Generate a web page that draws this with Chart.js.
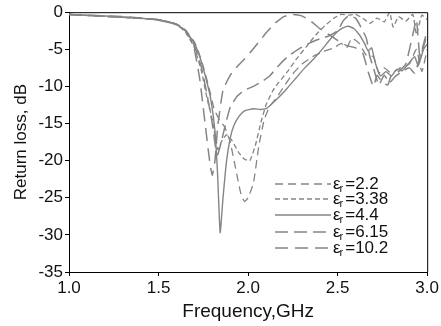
<!DOCTYPE html>
<html>
<head>
<meta charset="utf-8">
<script src="https://cdn.jsdelivr.net/npm/chart.js@4.4.1/dist/chart.umd.min.js"></script>
<style>
  html, body { margin: 0; padding: 0; background: #fff; }
  #wrap { width: 441px; height: 326px; }
</style>
</head>
<body>
<div id="wrap"><canvas id="rl"></canvas></div>
<script>
    // return loss curves (GHz / dB)
    const epsLabels = ['2.2', '3.38', '4.4', '6.15', '10.2'];

    const f22 = [1.0, 1.5, 1.6, 1.65, 1.7, 1.74, 1.78, 1.81, 1.84, 1.87, 1.9, 1.93, 1.96, 1.98, 2.0, 2.03, 2.06, 2.09, 2.12, 2.16, 2.2, 2.25, 2.3, 2.36, 2.42, 2.48, 2.52, 2.55, 2.58, 2.62, 2.66, 2.7, 2.73, 2.76, 2.8, 2.85, 2.9, 2.94, 2.97, 3.0];
    const rl22 = [-0.3, -1.0, -1.6, -2.4, -4, -6.5, -10, -13, -14.5, -15.5, -17.5, -21, -24.5, -25.5, -25, -23, -18, -14.5, -12.7, -11.5, -10, -8.3, -7, -6, -5.3, -4.8, -4.2, -4.8, -3.5, -4.2, -5.8, -6, -8.2, -7.5, -8.2, -7.5, -7, -5, -8, -5];

    const f338 = [1.0, 1.5, 1.6, 1.65, 1.7, 1.74, 1.77, 1.8, 1.83, 1.85, 1.88, 1.91, 1.95, 1.98, 2.01, 2.04, 2.07, 2.1, 2.14, 2.17, 2.22, 2.27, 2.33, 2.38, 2.43, 2.48, 2.52, 2.56, 2.6, 2.64, 2.68, 2.72, 2.76, 2.79, 2.81, 2.84, 2.88, 2.92, 2.94, 2.97, 3.0];
    const rl338 = [-0.3, -1.0, -1.7, -2.7, -4.8, -8, -11.5, -14.5, -18.5, -17.5, -16.5, -17.3, -19, -19.8, -20, -18, -15, -12.5, -10.5, -9.5, -8, -6.3, -4.5, -3, -1.8, -0.8, -0.3, -0.4, -0.3, -0.8, -1.5, -0.8, -1.3, 0, -2, -0.6, -1.2, -0.3, -3, -0.4, -1];

    const f44 = [1.0, 1.2, 1.4, 1.5, 1.6, 1.65, 1.7, 1.73, 1.76, 1.79, 1.815, 1.83, 1.844, 1.86, 1.88, 1.9, 1.92, 1.95, 1.98, 2.03, 2.07, 2.1, 2.13, 2.17, 2.22, 2.27, 2.32, 2.37, 2.42, 2.46, 2.5, 2.53, 2.56, 2.59, 2.62, 2.65, 2.67, 2.69, 2.71, 2.74, 2.77, 2.8, 2.83, 2.86, 2.9, 2.93, 2.95, 2.98, 3.0];
    const rl44 = [-0.3, -0.5, -0.8, -1.1, -1.7, -2.5, -4.2, -6, -8.5, -11.5, -16, -22, -29.7, -25, -20, -17, -15.3, -14, -13.3, -13.0, -13.1, -13.0, -12.4, -11.5, -10.2, -8.8, -7.4, -6.2, -4.8, -3.6, -2.6, -2.1, -1.9, -2.2, -3, -4.2, -5.2, -4.8, -6.8, -8.6, -8, -8.6, -7.7, -7.9, -6.8, -6, -7.2, -5, -4.3];

    const f615 = [1.0, 1.5, 1.6, 1.65, 1.7, 1.74, 1.77, 1.8, 1.82, 1.83, 1.85, 1.87, 1.9, 1.94, 1.98, 2.03, 2.08, 2.12, 2.17, 2.22, 2.28, 2.34, 2.4, 2.45, 2.5, 2.53, 2.56, 2.6, 2.63, 2.66, 2.68, 2.7, 2.73, 2.76, 2.79, 2.82, 2.86, 2.9, 2.93, 2.96, 3.0];
    const rl615 = [-0.3, -1.0, -1.6, -2.5, -4.5, -7.5, -11, -15, -18.5, -19.2, -17.5, -15.5, -12.8, -11.3, -10.5, -10, -9.3, -8.6, -7.2, -6, -5, -4.2, -3.6, -3.2, -2.5, -1.2, -0.5, -0.8, -2, -3.5, -6, -7.5, -9.8, -8.5, -9.5, -8.7, -8, -7.5, -8.2, -6, -2.5];

    const f102 = [1.0, 1.3, 1.5, 1.6, 1.65, 1.68, 1.7, 1.73, 1.76, 1.785, 1.8, 1.815, 1.83, 1.86, 1.9, 1.94, 1.98, 2.02, 2.06, 2.1, 2.15, 2.2, 2.25, 2.3, 2.35, 2.4, 2.45, 2.5, 2.55, 2.6, 2.64, 2.67, 2.7, 2.72, 2.75, 2.78, 2.8, 2.84, 2.88, 2.92, 2.94, 2.96, 3.0];
    const rl102 = [-0.3, -0.6, -1.0, -1.6, -2.4, -3.6, -5, -9, -15, -20, -22, -20, -15.5, -10.5, -8.5, -7.3, -6.3, -5.2, -4.0, -2.8, -1.5, -0.6, -0.3, -0.5, -1.2, -2.2, -3.0, -3.8, -4.5, -4.8, -5.5, -8, -10, -8.5, -9.5, -9.8, -8.5, -8, -7, -3, -1, -6, -3];

    const freqs = [f22, f338, f44, f615, f102];
    const losses = [rl22, rl338, rl44, rl615, rl102];
    const dashes = [[8, 5], [5, 3], [], [13, 6], [13, 7]];
    const widths = [1.3, 1.3, 1.4, 1.5, 1.5];

    const FONT = '"Liberation Sans", Arial, Helvetica, sans-serif';
    const GRAY = '#858585';

    // frame on top/right + legend with subscript r
    const frameLegend = {
        id: 'frameLegend',
        afterDraw(chart) {
            const ctx = chart.ctx;
            const a = chart.chartArea;
            ctx.save();
            ctx.strokeStyle = '#000';
            ctx.lineWidth = 1;
            ctx.beginPath();
            ctx.moveTo(a.left, a.top + 0.5);
            ctx.lineTo(a.right + 0.5, a.top + 0.5);
            ctx.lineTo(a.right + 0.5, a.bottom);
            ctx.stroke();

            const x0 = 275, x1 = 331, ys = [184, 199, 215, 232, 248];
            chart.data.datasets.forEach((ds, i) => {
                ctx.strokeStyle = ds.borderColor;
                ctx.lineWidth = ds.borderWidth;
                ctx.setLineDash(ds.borderDash || []);
                ctx.beginPath();
                ctx.moveTo(x0, ys[i]);
                ctx.lineTo(x1, ys[i]);
                ctx.stroke();
                ctx.setLineDash([]);

                ctx.fillStyle = '#111';
                ctx.textBaseline = 'middle';
                ctx.font = '17px ' + FONT;
                ctx.fillText('ε', 333, ys[i]);
                let w = ctx.measureText('ε').width;
                ctx.font = '11px ' + FONT;
                ctx.fillText('r', 333 + w - 1, ys[i] + 5);
                let w2 = ctx.measureText('r').width;
                ctx.font = '17px ' + FONT;
                ctx.fillText('=' + epsLabels[i], 333 + w + w2 + 1, ys[i]);
            });
            ctx.restore();
        }
    };

    const ctx = document.getElementById('rl').getContext('2d');
    const myChart = new Chart(ctx, {
        type: 'line',
        data: {
            datasets: epsLabels.map((e, i) => ({
                label: 'εr=' + e,
                data: freqs[i].map((f, j) => ({ x: f, y: losses[i][j] })),
                borderColor: GRAY,
                borderWidth: widths[i],
                borderDash: dashes[i],
                pointRadius: 0,
                tension: 0.15,
                fill: false
            }))
        },
        options: {
            responsive: true,
            maintainAspectRatio: false,
            animation: false,
            layout: { padding: { left: 0, right: 7, top: 7, bottom: 0 } },
            plugins: {
                legend: { display: false },
                tooltip: { enabled: false }
            },
            scales: {
                x: {
                    type: 'linear',
                    min: 1, max: 3,
                    afterFit: (s) => { s.height = 54; },
                    ticks: {
                        stepSize: 0.5,
                        color: '#111',
                        padding: 2,
                        maxRotation: 0,
                        font: { family: FONT, size: 17 },
                        callback: (v) => v.toFixed(1)
                    },
                    grid: { display: true, drawOnChartArea: false, tickLength: 4, color: '#000' },
                    border: { display: true, color: '#000', width: 1 },
                    title: {
                        display: true,
                        text: 'Frequency,GHz',
                        color: '#111',
                        font: { family: FONT, size: 19 },
                        padding: { top: 0, bottom: 3 }
                    }
                },
                y: {
                    min: -35, max: 0,
                    afterFit: (s) => { s.width = 69; },
                    ticks: {
                        stepSize: 5,
                        color: '#111',
                        padding: 2,
                        font: { family: FONT, size: 17 }
                    },
                    grid: { display: true, drawOnChartArea: false, tickLength: 4, color: '#000' },
                    border: { display: true, color: '#000', width: 1 },
                    title: {
                        display: true,
                        text: 'Return loss, dB',
                        color: '#111',
                        font: { family: FONT, size: 17 },
                        padding: { top: 11, bottom: 0 }
                    }
                }
            }
        },
        plugins: [frameLegend]
    });
</script>
</body>
</html>
